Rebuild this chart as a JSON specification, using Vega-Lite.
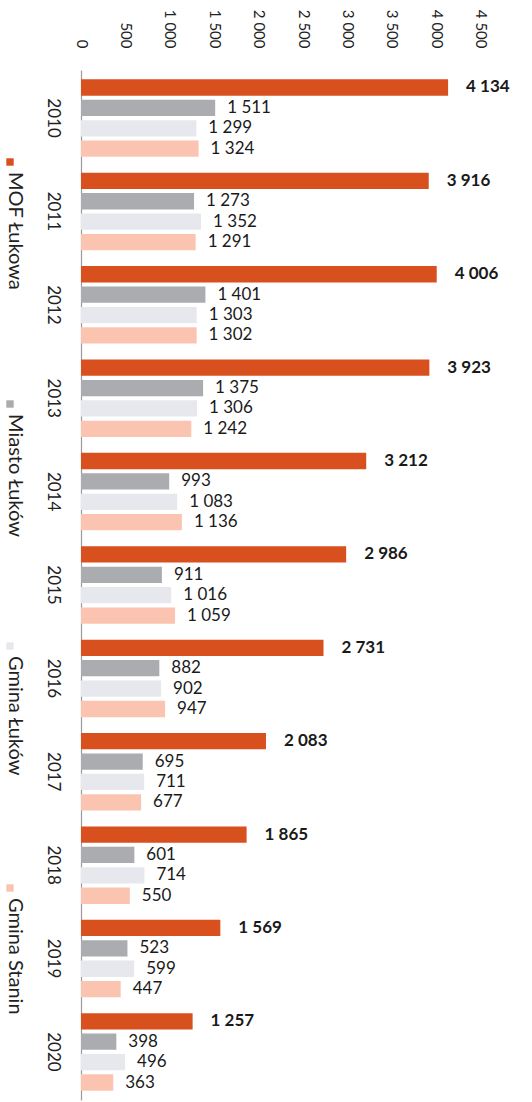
{
  "$schema": "https://vega.github.io/schema/vega-lite/v6.json",
  "width": 444,
  "height": 1030,
  "autosize": {"type": "none"},
  "padding": {"left": 81, "top": 70, "right": 7, "bottom": 2},
  "config": {
    "view": {"stroke": null},
    "font": "Lato",
    "locale": {"number": {"decimal": ",", "thousands": " ", "grouping": [3], "currency": ["", ""]}}
  },
  "data": {
    "values": [
      {"year": "2010", "series": "MOF Łukowa", "value": 4134},
      {"year": "2010", "series": "Miasto Łuków", "value": 1511},
      {"year": "2010", "series": "Gmina Łuków", "value": 1299},
      {"year": "2010", "series": "Gmina Stanin", "value": 1324},
      {"year": "2011", "series": "MOF Łukowa", "value": 3916},
      {"year": "2011", "series": "Miasto Łuków", "value": 1273},
      {"year": "2011", "series": "Gmina Łuków", "value": 1352},
      {"year": "2011", "series": "Gmina Stanin", "value": 1291},
      {"year": "2012", "series": "MOF Łukowa", "value": 4006},
      {"year": "2012", "series": "Miasto Łuków", "value": 1401},
      {"year": "2012", "series": "Gmina Łuków", "value": 1303},
      {"year": "2012", "series": "Gmina Stanin", "value": 1302},
      {"year": "2013", "series": "MOF Łukowa", "value": 3923},
      {"year": "2013", "series": "Miasto Łuków", "value": 1375},
      {"year": "2013", "series": "Gmina Łuków", "value": 1306},
      {"year": "2013", "series": "Gmina Stanin", "value": 1242},
      {"year": "2014", "series": "MOF Łukowa", "value": 3212},
      {"year": "2014", "series": "Miasto Łuków", "value": 993},
      {"year": "2014", "series": "Gmina Łuków", "value": 1083},
      {"year": "2014", "series": "Gmina Stanin", "value": 1136},
      {"year": "2015", "series": "MOF Łukowa", "value": 2986},
      {"year": "2015", "series": "Miasto Łuków", "value": 911},
      {"year": "2015", "series": "Gmina Łuków", "value": 1016},
      {"year": "2015", "series": "Gmina Stanin", "value": 1059},
      {"year": "2016", "series": "MOF Łukowa", "value": 2731},
      {"year": "2016", "series": "Miasto Łuków", "value": 882},
      {"year": "2016", "series": "Gmina Łuków", "value": 902},
      {"year": "2016", "series": "Gmina Stanin", "value": 947},
      {"year": "2017", "series": "MOF Łukowa", "value": 2083},
      {"year": "2017", "series": "Miasto Łuków", "value": 695},
      {"year": "2017", "series": "Gmina Łuków", "value": 711},
      {"year": "2017", "series": "Gmina Stanin", "value": 677},
      {"year": "2018", "series": "MOF Łukowa", "value": 1865},
      {"year": "2018", "series": "Miasto Łuków", "value": 601},
      {"year": "2018", "series": "Gmina Łuków", "value": 714},
      {"year": "2018", "series": "Gmina Stanin", "value": 550},
      {"year": "2019", "series": "MOF Łukowa", "value": 1569},
      {"year": "2019", "series": "Miasto Łuków", "value": 523},
      {"year": "2019", "series": "Gmina Łuków", "value": 599},
      {"year": "2019", "series": "Gmina Stanin", "value": 447},
      {"year": "2020", "series": "MOF Łukowa", "value": 1257},
      {"year": "2020", "series": "Miasto Łuków", "value": 398},
      {"year": "2020", "series": "Gmina Łuków", "value": 496},
      {"year": "2020", "series": "Gmina Stanin", "value": 363}
    ]
  },
  "encoding": {
    "y": {
      "field": "year",
      "type": "nominal",
      "scale": {"paddingInner": 0.17, "paddingOuter": 0.1},
      "axis": {
        "title": null,
        "labelAngle": 90,
        "labelAlign": "center",
        "labelBaseline": "top",
        "labelPadding": 21,
        "labelFontSize": 17,
        "labelColor": "#222222",
        "ticks": false,
        "domainColor": "#9a9a9a",
        "domainWidth": 1.2
      }
    },
    "yOffset": {
      "field": "series",
      "type": "nominal",
      "sort": ["MOF Łukowa", "Miasto Łuków", "Gmina Łuków", "Gmina Stanin"],
      "scale": {"paddingInner": 0.2}
    },
    "x": {
      "field": "value",
      "type": "quantitative",
      "scale": {"domain": [0, 5000], "nice": false},
      "axis": {
        "orient": "top",
        "title": null,
        "values": [0, 500, 1000, 1500, 2000, 2500, 3000, 3500, 4000, 4500],
        "format": ",d",
        "labelAngle": 90,
        "labelAlign": "right",
        "labelBaseline": "middle",
        "labelPadding": 22,
        "labelFontSize": 15,
        "labelColor": "#222222",
        "labelFlush": false,
        "labelOverlap": false,
        "ticks": false,
        "domain": false,
        "grid": false
      }
    }
  },
  "layer": [
    {
      "mark": {"type": "bar"},
      "encoding": {
        "color": {
          "field": "series",
          "type": "nominal",
          "scale": {
            "domain": ["MOF Łukowa", "Miasto Łuków", "Gmina Łuków", "Gmina Stanin"],
            "range": ["#d9501f", "#aaacaf", "#e6e8ee", "#fbc4b1"]
          },
          "legend": {
            "orient": "none",
            "legendX": -81,
            "legendY": 82,
            "title": null,
            "symbolType": "square",
            "symbolSize": 55,
            "symbolStrokeWidth": 0,
            "labelFontSize": 20,
            "labelColor": "#222222",
            "labelOffset": 4,
            "gridAlign": "all",
            "rowPadding": 98,
            "encoding": {
              "labels": {
                "angle": {"value": 90},
                "align": {"value": "left"},
                "baseline": {"value": "middle"},
                "dx": {"value": 10},
                "dy": {"value": 9}
              }
            }
          }
        }
      }
    },
    {
      "transform": [{"filter": "datum.series === 'MOF Łukowa'"}],
      "mark": {"type": "text", "align": "left", "baseline": "middle", "dx": 18, "fontSize": 17, "fontWeight": "bold", "color": "#1a1a1a"},
      "encoding": {"text": {"field": "value", "type": "quantitative", "format": ",d"}}
    },
    {
      "transform": [{"filter": "datum.series !== 'MOF Łukowa'"}],
      "mark": {"type": "text", "align": "left", "baseline": "middle", "dx": 12, "fontSize": 17, "color": "#1a1a1a"},
      "encoding": {"text": {"field": "value", "type": "quantitative", "format": ",d"}}
    }
  ]
}
